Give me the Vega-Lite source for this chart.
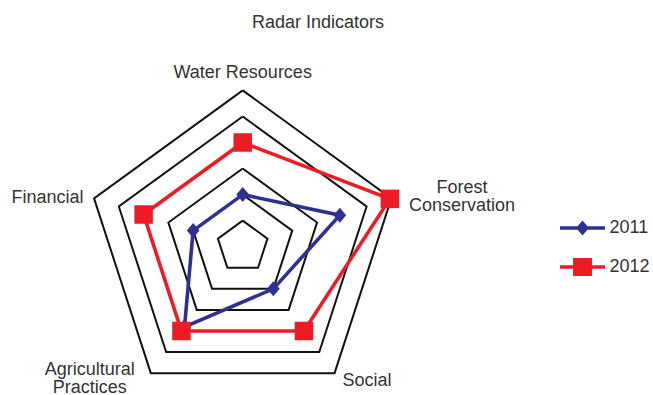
{
  "$schema": "https://vega.github.io/schema/vega-lite/v6.json",
  "width": 653,
  "height": 355,
  "autosize": {"type": "none"},
  "padding": {"left": 0, "top": 40, "right": 0, "bottom": 0},
  "background": "white",
  "config": {"view": {"stroke": null}, "font": "Liberation Sans"},
  "title": {"text": "Radar Indicators", "fontSize": 18, "font": "Liberation Sans", "fontWeight": "normal", "color": "#333333", "anchor": "middle", "frame": "group", "dx": -8.5, "dy": 18, "offset": 12, "baseline": "alphabetic"},
  "datasets": {
    "scores": [
      {"year": "2011", "k": 0, "axis": "Water Resources", "v": 1},
      {"year": "2011", "k": 1, "axis": "Forest Conservation", "v": 1.96},
      {"year": "2011", "k": 2, "axis": "Social", "v": 1},
      {"year": "2011", "k": 3, "axis": "Agricultural Practices", "v": 1.9},
      {"year": "2011", "k": 4, "axis": "Financial", "v": 1},
      {"year": "2011", "k": 5, "axis": "Water Resources", "v": 1},
      {"year": "2012", "k": 0, "axis": "Water Resources", "v": 2},
      {"year": "2012", "k": 1, "axis": "Forest Conservation", "v": 2.97},
      {"year": "2012", "k": 2, "axis": "Social", "v": 2},
      {"year": "2012", "k": 3, "axis": "Agricultural Practices", "v": 2},
      {"year": "2012", "k": 4, "axis": "Financial", "v": 2},
      {"year": "2012", "k": 5, "axis": "Water Resources", "v": 2}
    ],
    "grid": [
      {"level": 0.5, "k": 0}, {"level": 0.5, "k": 1}, {"level": 0.5, "k": 2}, {"level": 0.5, "k": 3}, {"level": 0.5, "k": 4}, {"level": 0.5, "k": 5},
      {"level": 1, "k": 0}, {"level": 1, "k": 1}, {"level": 1, "k": 2}, {"level": 1, "k": 3}, {"level": 1, "k": 4}, {"level": 1, "k": 5},
      {"level": 1.5, "k": 0}, {"level": 1.5, "k": 1}, {"level": 1.5, "k": 2}, {"level": 1.5, "k": 3}, {"level": 1.5, "k": 4}, {"level": 1.5, "k": 5},
      {"level": 2.5, "k": 0}, {"level": 2.5, "k": 1}, {"level": 2.5, "k": 2}, {"level": 2.5, "k": 3}, {"level": 2.5, "k": 4}, {"level": 2.5, "k": 5},
      {"level": 3, "k": 0}, {"level": 3, "k": 1}, {"level": 3, "k": 2}, {"level": 3, "k": 3}, {"level": 3, "k": 4}, {"level": 3, "k": 5}
    ],
    "axes": [
      {"k": 0, "name": "Water Resources", "v": 3},
      {"k": 1, "name": "Forest\nConservation", "v": 3},
      {"k": 2, "name": "Social", "v": 3},
      {"k": 3, "name": "Agricultural\nPractices", "v": 3},
      {"k": 4, "name": "Financial", "v": 3}
    ]
  },
  "layer": [
    {
      "data": {"name": "grid"},
      "transform": [
        {"calculate": "datum.level * cos((90 - 72 * datum.k) * PI / 180)", "as": "px"},
        {"calculate": "datum.level * sin((90 - 72 * datum.k) * PI / 180)", "as": "py"}
      ],
      "mark": {"type": "line", "stroke": "#111111", "strokeWidth": 2, "strokeJoin": "miter"},
      "encoding": {
        "x": {"field": "px", "type": "quantitative", "scale": {"domain": [-4.6583, 7.8753], "nice": false, "zero": false}, "axis": null},
        "y": {"field": "py", "type": "quantitative", "scale": {"domain": [-2.8464, 3.9674], "nice": false, "zero": false}, "axis": null},
        "detail": {"field": "level", "type": "nominal"},
        "order": {"field": "k", "type": "quantitative"}
      }
    },
    {
      "data": {"name": "scores"},
      "transform": [
        {"filter": "datum.year == '2012'"},
        {"calculate": "datum.v * cos((90 - 72 * datum.k) * PI / 180)", "as": "px"},
        {"calculate": "datum.v * sin((90 - 72 * datum.k) * PI / 180)", "as": "py"}
      ],
      "mark": {"type": "line", "strokeWidth": 3.6, "strokeJoin": "miter", "stroke": "#ed1c24"},
      "encoding": {
        "x": {"field": "px", "type": "quantitative", "scale": {"domain": [-4.6583, 7.8753], "nice": false, "zero": false}, "axis": null},
        "y": {"field": "py", "type": "quantitative", "scale": {"domain": [-2.8464, 3.9674], "nice": false, "zero": false}, "axis": null},
        "order": {"field": "k", "type": "quantitative"}
      }
    },
    {
      "data": {"name": "scores"},
      "transform": [
        {"filter": "datum.year == '2011'"},
        {"calculate": "datum.v * cos((90 - 72 * datum.k) * PI / 180)", "as": "px"},
        {"calculate": "datum.v * sin((90 - 72 * datum.k) * PI / 180)", "as": "py"}
      ],
      "mark": {"type": "line", "strokeWidth": 3.6, "strokeJoin": "miter", "stroke": "#2e3192"},
      "encoding": {
        "x": {"field": "px", "type": "quantitative", "scale": {"domain": [-4.6583, 7.8753], "nice": false, "zero": false}, "axis": null},
        "y": {"field": "py", "type": "quantitative", "scale": {"domain": [-2.8464, 3.9674], "nice": false, "zero": false}, "axis": null},
        "order": {"field": "k", "type": "quantitative"}
      }
    },
    {
      "data": {"name": "scores"},
      "transform": [
        {"filter": "datum.year == '2011' && datum.k < 5"},
        {"calculate": "datum.v * cos((90 - 72 * datum.k) * PI / 180)", "as": "px"},
        {"calculate": "datum.v * sin((90 - 72 * datum.k) * PI / 180)", "as": "py"}
      ],
      "mark": {"type": "point", "filled": true, "opacity": 1, "shape": "M0,-1L0.85,0L0,1L-0.85,0Z", "size": 225, "color": "#2e3192"},
      "encoding": {
        "x": {"field": "px", "type": "quantitative", "scale": {"domain": [-4.6583, 7.8753], "nice": false, "zero": false}, "axis": null},
        "y": {"field": "py", "type": "quantitative", "scale": {"domain": [-2.8464, 3.9674], "nice": false, "zero": false}, "axis": null}
      }
    },
    {
      "data": {"name": "scores"},
      "transform": [
        {"filter": "datum.year == '2012' && datum.k < 5"},
        {"calculate": "datum.v * cos((90 - 72 * datum.k) * PI / 180)", "as": "px"},
        {"calculate": "datum.v * sin((90 - 72 * datum.k) * PI / 180)", "as": "py"}
      ],
      "mark": {"type": "point", "filled": true, "opacity": 1, "shape": "square", "size": 342, "color": "#ed1c24"},
      "encoding": {
        "x": {"field": "px", "type": "quantitative", "scale": {"domain": [-4.6583, 7.8753], "nice": false, "zero": false}, "axis": null},
        "y": {"field": "py", "type": "quantitative", "scale": {"domain": [-2.8464, 3.9674], "nice": false, "zero": false}, "axis": null}
      }
    },
    {
      "data": {"name": "axes"},
      "transform": [
        {"filter": "datum.k == 0"},
        {"calculate": "datum.v * cos((90 - 72 * datum.k) * PI / 180)", "as": "px"},
        {"calculate": "datum.v * sin((90 - 72 * datum.k) * PI / 180)", "as": "py"}
      ],
      "mark": {"type": "text", "align": "center", "baseline": "alphabetic", "dx": 0, "dy": -12, "fontSize": 18, "font": "Liberation Sans", "color": "#333333", "lineBreak": "\n", "lineHeight": 17.5},
      "encoding": {
        "x": {"field": "px", "type": "quantitative", "scale": {"domain": [-4.6583, 7.8753], "nice": false, "zero": false}, "axis": null},
        "y": {"field": "py", "type": "quantitative", "scale": {"domain": [-2.8464, 3.9674], "nice": false, "zero": false}, "axis": null},
        "text": {"field": "name", "type": "nominal"}
      }
    },
    {
      "data": {"name": "axes"},
      "transform": [
        {"filter": "datum.k == 1"},
        {"calculate": "datum.v * cos((90 - 72 * datum.k) * PI / 180)", "as": "px"},
        {"calculate": "datum.v * sin((90 - 72 * datum.k) * PI / 180)", "as": "py"}
      ],
      "mark": {"type": "text", "align": "center", "baseline": "alphabetic", "dx": 70.6, "dy": -5, "fontSize": 18, "font": "Liberation Sans", "color": "#333333", "lineBreak": "\n", "lineHeight": 17.5},
      "encoding": {
        "x": {"field": "px", "type": "quantitative", "scale": {"domain": [-4.6583, 7.8753], "nice": false, "zero": false}, "axis": null},
        "y": {"field": "py", "type": "quantitative", "scale": {"domain": [-2.8464, 3.9674], "nice": false, "zero": false}, "axis": null},
        "text": {"field": "name", "type": "nominal"}
      }
    },
    {
      "data": {"name": "axes"},
      "transform": [
        {"filter": "datum.k == 2"},
        {"calculate": "datum.v * cos((90 - 72 * datum.k) * PI / 180)", "as": "px"},
        {"calculate": "datum.v * sin((90 - 72 * datum.k) * PI / 180)", "as": "py"}
      ],
      "mark": {"type": "text", "align": "left", "baseline": "alphabetic", "dx": 8, "dy": 12.8, "fontSize": 18, "font": "Liberation Sans", "color": "#333333", "lineBreak": "\n", "lineHeight": 17.5},
      "encoding": {
        "x": {"field": "px", "type": "quantitative", "scale": {"domain": [-4.6583, 7.8753], "nice": false, "zero": false}, "axis": null},
        "y": {"field": "py", "type": "quantitative", "scale": {"domain": [-2.8464, 3.9674], "nice": false, "zero": false}, "axis": null},
        "text": {"field": "name", "type": "nominal"}
      }
    },
    {
      "data": {"name": "axes"},
      "transform": [
        {"filter": "datum.k == 3"},
        {"calculate": "datum.v * cos((90 - 72 * datum.k) * PI / 180)", "as": "px"},
        {"calculate": "datum.v * sin((90 - 72 * datum.k) * PI / 180)", "as": "py"}
      ],
      "mark": {"type": "text", "align": "center", "baseline": "alphabetic", "dx": -61, "dy": 2, "fontSize": 18, "font": "Liberation Sans", "color": "#333333", "lineBreak": "\n", "lineHeight": 17.5},
      "encoding": {
        "x": {"field": "px", "type": "quantitative", "scale": {"domain": [-4.6583, 7.8753], "nice": false, "zero": false}, "axis": null},
        "y": {"field": "py", "type": "quantitative", "scale": {"domain": [-2.8464, 3.9674], "nice": false, "zero": false}, "axis": null},
        "text": {"field": "name", "type": "nominal"}
      }
    },
    {
      "data": {"name": "axes"},
      "transform": [
        {"filter": "datum.k == 4"},
        {"calculate": "datum.v * cos((90 - 72 * datum.k) * PI / 180)", "as": "px"},
        {"calculate": "datum.v * sin((90 - 72 * datum.k) * PI / 180)", "as": "py"}
      ],
      "mark": {"type": "text", "align": "right", "baseline": "alphabetic", "dx": -10.5, "dy": 5, "fontSize": 18, "font": "Liberation Sans", "color": "#333333", "lineBreak": "\n", "lineHeight": 17.5},
      "encoding": {
        "x": {"field": "px", "type": "quantitative", "scale": {"domain": [-4.6583, 7.8753], "nice": false, "zero": false}, "axis": null},
        "y": {"field": "py", "type": "quantitative", "scale": {"domain": [-2.8464, 3.9674], "nice": false, "zero": false}, "axis": null},
        "text": {"field": "name", "type": "nominal"}
      }
    },
    {
      "data": {"name": "scores"},
      "transform": [{"filter": "datum.k == 0"}],
      "mark": {"type": "point", "filled": true, "strokeWidth": 0, "size": 0, "opacity": 1},
      "encoding": {
        "color": {"field": "year", "type": "nominal", "scale": {"domain": ["2011", "2012"], "range": ["#2e3192", "#ed1c24"]},
          "legend": {"title": null, "orient": "none", "legendX": 567.5, "legendY": 173, "symbolSize": 900, "symbolStrokeWidth": 0, "symbolOpacity": 1, "labelFontSize": 18, "labelFont": "Liberation Sans", "labelColor": "#333333", "labelOffset": 12, "rowPadding": 15, "padding": 0}},
        "shape": {"field": "year", "type": "nominal", "scale": {"domain": ["2011", "2012"], "range": ["M-1.5,-0.11H1.5V0.11H-1.5ZM0,-0.5L0.43,0L0,0.5L-0.43,0Z", "M-1.5,-0.11H1.5V0.11H-1.5ZM-0.63,-0.6H0.63V0.6H-0.63Z"]},
          "legend": {"title": null, "orient": "none", "legendX": 567.5, "legendY": 173, "symbolSize": 900, "symbolStrokeWidth": 0, "symbolOpacity": 1, "labelFontSize": 18, "labelFont": "Liberation Sans", "labelColor": "#333333", "labelOffset": 12, "rowPadding": 15, "padding": 0}}
      }
    }
  ]
}
